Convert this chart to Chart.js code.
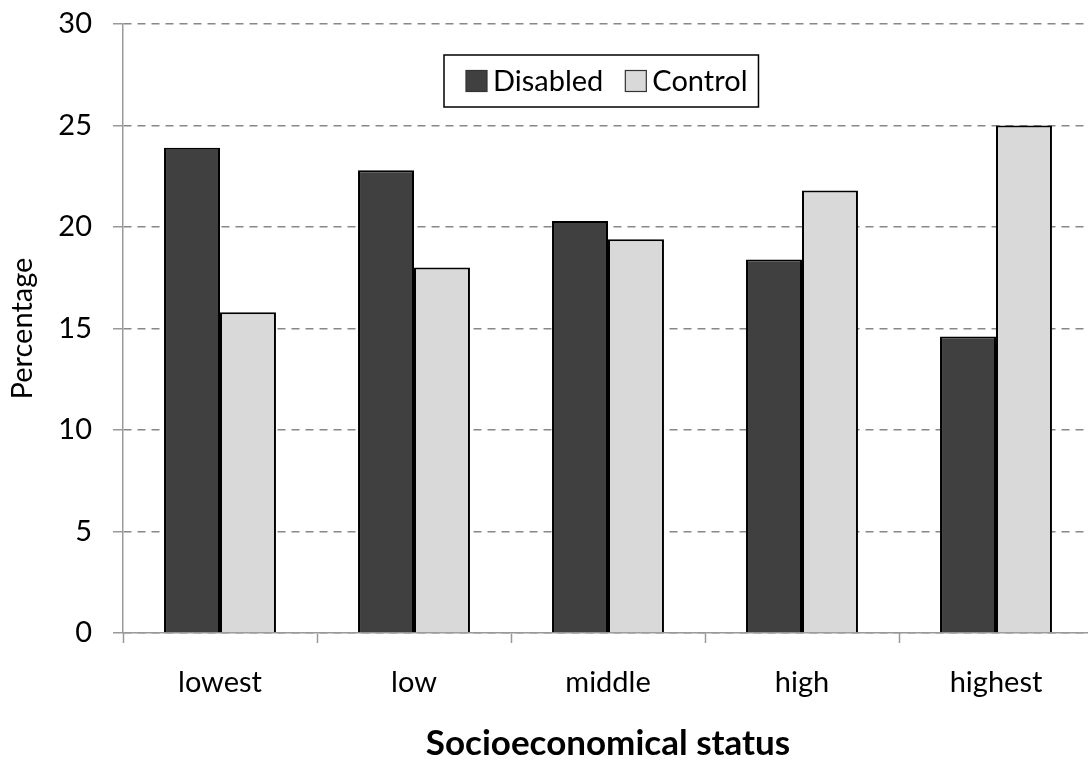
<!DOCTYPE html>
<html>
<head>
<meta charset="utf-8">
<script src="https://cdn.jsdelivr.net/npm/chart.js@4/dist/chart.umd.min.js"></script>
<style>
  html, body { margin: 0; padding: 0; background: #fff; overflow: hidden; }
  #chart { display: block; }
</style>
</head>
<body>
<canvas id="chart" width="1100" height="762"></canvas>
<script>
// values
const categories = ["lowest", "low", "middle", "high", "highest"];
const disabledValues = [23.9, 22.8, 20.3, 18.4, 14.6];
const controlValues = [15.8, 18.0, 19.4, 21.8, 25.0];
const seriesNames = ["Disabled", "Control"];
const seriesColors = ["#404040", "#d9d9d9"];

const FONT = "Lato, 'Open Sans', sans-serif";

// boxed legend drawn inside the plot, like the original
const boxLegend = {
  id: "boxLegend",
  afterDraw(chart) {
    const ctx = chart.ctx;
    const area = chart.chartArea;
    const sets = chart.data.datasets;
    ctx.save();
    ctx.font = "29px " + FONT;
    const sw = 21, gapSwatch = 6, gapItem = 22, padL = 22, padR = 11;
    let inner = 0;
    sets.forEach((ds, i) => {
      inner += sw + gapSwatch + ctx.measureText(ds.label).width;
      if (i < sets.length - 1) inner += gapItem;
    });
    const w = padL + inner + padR;
    const h = 52;
    const x0 = 444;
    const y0 = area.top + 31;
    ctx.fillStyle = "#fff";
    ctx.fillRect(x0, y0, w, h);
    ctx.strokeStyle = "#000";
    ctx.lineWidth = 1.5;
    ctx.strokeRect(x0, y0, w, h);
    let x = x0 + padL;
    const cy = y0 + h / 2;
    sets.forEach((ds, i) => {
      ctx.fillStyle = ds.backgroundColor;
      ctx.fillRect(x, cy - sw / 2, sw, sw);
      ctx.strokeStyle = "#333";
      ctx.lineWidth = 1.2;
      ctx.strokeRect(x, cy - sw / 2, sw, sw);
      x += sw + gapSwatch;
      ctx.fillStyle = "#000";
      ctx.textBaseline = "middle";
      ctx.textAlign = "left";
      ctx.fillText(ds.label, x, cy + 1);
      x += ctx.measureText(ds.label).width + gapItem;
    });
    ctx.restore();
  }
};

new Chart(document.getElementById("chart").getContext("2d"), {
  type: "bar",
  data: {
    labels: categories,
    datasets: [
      {
        label: seriesNames[0],
        data: disabledValues,
        backgroundColor: seriesColors[0],
        borderColor: "#000",
        borderWidth: 2,
      },
      {
        label: seriesNames[1],
        data: controlValues,
        backgroundColor: seriesColors[1],
        borderColor: "#000",
        borderWidth: 2,
      },
    ],
  },
  options: {
    responsive: false,
    animation: false,
    devicePixelRatio: 1,
    layout: { padding: { top: 24, right: 7, left: 0, bottom: 0 } },
    datasets: {
      bar: { categoryPercentage: 0.577, barPercentage: 1.0 },
    },
    plugins: {
      legend: { display: false },
      tooltip: { enabled: false },
    },
    scales: {
      x: {
        grid: {
          display: true,
          drawOnChartArea: false,
          drawTicks: true,
          tickLength: 10,
          tickColor: "#999",
          tickWidth: 1.5,
          offset: true,
        },
        border: { display: true, color: "#999", width: 1.5 },
        ticks: {
          color: "#000",
          font: { family: FONT, size: 29 },
          padding: 22,
        },
        title: {
          display: true,
          text: "Socioeconomical status",
          color: "#000",
          font: { family: FONT, size: 35, weight: "bold" },
          padding: { top: 0, bottom: -3 },
        },
        afterFit(scale) {
          scale.height = 129;
        },
      },
      y: {
        min: 0,
        max: 30,
        ticks: {
          stepSize: 5,
          color: "#000",
          font: { family: FONT, size: 29 },
          padding: 21,
        },
        grid: {
          color: "#888",
          lineWidth: 1.5,
          tickLength: 10,
          tickColor: "#999",
          tickWidth: 1.5,
          tickBorderDash: [],
        },
        border: { display: true, color: "#999", width: 1.5, dash: [8, 6] },
        title: {
          display: true,
          text: "Percentage",
          color: "#000",
          font: { family: FONT, size: 29 },
          padding: { top: 5, bottom: 0 },
        },
        afterFit(scale) {
          scale.width = 123;
          scale.paddingTop = 0;
          scale.paddingBottom = 0;
        },
      },
    },
  },
  plugins: [boxLegend],
});
</script>
</body>
</html>
